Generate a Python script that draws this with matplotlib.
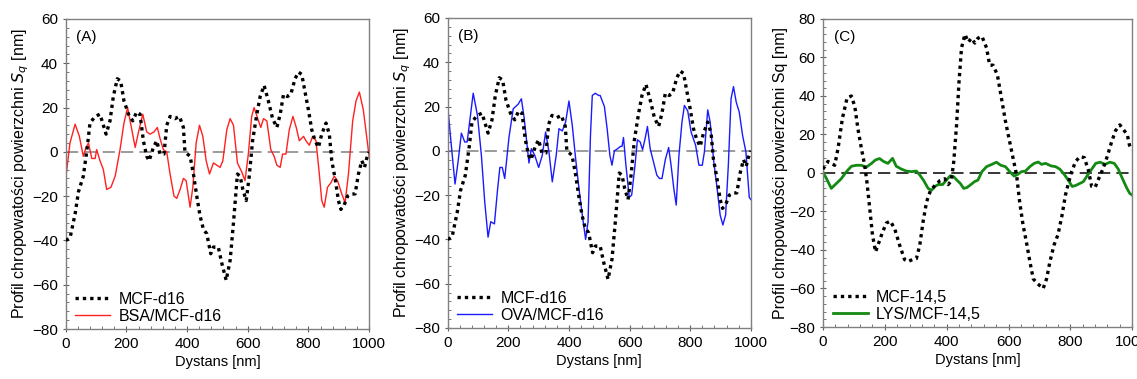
import matplotlib
matplotlib.use('Agg')
import matplotlib.pyplot as plt
from matplotlib.ticker import MultipleLocator

plt.rcParams['font.family'] = ['Liberation Sans', 'DejaVu Sans']

# MCF-d16 profile (panels A and B)
mcf16_x = [0, 14, 31, 42, 58, 71, 80, 97, 113, 122, 133, 146, 157, 170, 181, 192, 207, 221,
           234, 245, 256, 267, 275, 289, 300, 311, 324, 333, 344, 360, 375, 388, 393, 410,
           421, 432, 443, 454, 465, 478, 487, 503, 514, 529, 542, 553, 566, 575, 584, 595,
           605, 616, 630, 641, 654, 668, 682, 696, 707, 718, 731, 742, 756, 767, 778, 789,
           800, 811, 822, 833, 844, 858, 869, 877, 888, 899, 907, 918, 929, 943, 954, 965,
           976, 985, 992, 1000]
mcf16_y = [-40, -39, -28, -18, -11, 2, 13, 16, 17, 13, 8, 14, 25, 33, 32, 23, 17, 14,
           18, 17, 5, -2, -4, 2, 5, -1, -1, 12, 16, 15, 16, 11, 0, -2,
           -10, -20, -29, -35, -37, -46, -43, -43, -50, -58, -49, -32, -10, -11, -17, -22,
           -11, 5, 17, 25, 30, 23, 15, 11, 17, 26, 25, 26, 33, 36, 35, 27,
           19, 10, 5, 2, 8, 13, 8, -4, -12, -22, -26, -24, -20, -19, -19, -10,
           -4, -7, -3, 0]

# BSA/MCF-d16 (panel A)
bsa_x = [0, 14, 31, 45, 58, 67, 75, 86, 97, 102, 113, 124, 135, 149, 163, 179, 192, 204,
         215, 229, 240, 254, 267, 278, 291, 302, 311, 322, 333, 344, 357, 366, 377, 388,
         397, 410, 419, 430, 441, 452, 463, 474, 487, 498, 509, 518, 531, 542, 553, 566,
         580, 591, 602, 613, 621, 633, 643, 652, 663, 676, 687, 696, 707, 715, 726, 737,
         749, 760, 770, 784, 792, 803, 814, 825, 836, 844, 852, 863, 874, 885, 896, 910,
         921, 932, 946, 957, 968, 981, 992, 1000]
bsa_y = [-12, 4, 12.5, 7, -2, 2, 4, -3, -3, 1, -4, -8, -17, -16, -11, 1, 13, 20,
         12, 2, 9, 17, 9, 8, 9, 11, 6, 1, 0, -10, -20, -21, -17, -12,
         -13, -25, -16, 4, 12, 7, -4, -10, -5, -6, -7, -4, 10, 15, 12, -5,
         -9, -13, -1, 16, 20, 15, 11, 15, 14, 1, -2, -6, -7, -1, -1, 10,
         16, 11, 5, 7, 5, 3, 7, 5, -10, -22, -25, -16, -14, -11, -13, -19,
         -23, -10, 14, 23, 27, 19, 7, -2]

# OVA/MCF-d16 (panel B)
ova_x = [0, 10, 24, 34, 45, 56, 64, 84, 98, 111, 122, 133, 142, 154, 164, 172, 180, 188,
         202, 216, 232, 243, 252, 263, 268, 276, 287, 300, 312, 323, 334, 345, 358, 367,
         378, 389, 400, 411, 422, 433, 444, 455, 463, 471, 477, 487, 498, 503, 517, 526,
         535, 542, 550, 561, 570, 575, 580, 588, 599, 607, 618, 626, 635, 643, 652, 659,
         668, 679, 690, 699, 707, 718, 729, 737, 746, 754, 763, 773, 781, 792, 803, 818,
         829, 840, 847, 858, 866, 878, 889, 899, 908, 917, 926, 935, 943, 952, 962, 973,
         984, 995, 1000]
ova_y = [20, 5, -15, -5, 8, 4, 4, 26, 16, -2, -23, -39, -32, -33, -18, -7.5, -7.5, -12.5,
         6, 19, 21, 23.5, 15, 1, -5.5, 1, -2, -7.5, -2, 8.5, -0.5, -14, -2, 10,
         9, 13, 22.5, 11.5, -3.5, -17, -29, -40, -32, 7, 25, 26, 25, 25, 20, 10,
         -2, -6.5, 0, 1, 2, 2, 6, -6.5, -21, -20, -6.5, 5, 4, 0.5, 6, 11,
         1, -5, -11, -12.5, -12.5, -4, 1.5, -6.5, -17, -24.5, -2, 13, 20.5, 18, 8.5, 2.5,
         -6.5, -6.5, -0.5, 18.5, 13, -5, -17, -29, -33.5, -29, -6.5, 23.5, 29, 22, 17.5, 7,
         -0.5, -21, -22]

# MCF-14,5 (panel C)
mcf145_x = [0, 16, 38, 49, 63, 78, 92, 103, 113, 124, 135, 142, 151, 160, 170, 181, 192,
            205, 218, 232, 248, 264, 275, 289, 302, 313, 324, 335, 348, 362, 378, 394, 405,
            415, 423, 432, 440, 448, 459, 470, 480, 491, 501, 514, 529, 539, 550, 564, 577,
            590, 604, 615, 626, 636, 647, 658, 669, 680, 694, 712, 723, 734, 747, 760, 773,
            784, 795, 804, 817, 831, 845, 858, 869, 880, 892, 906, 920, 933, 946, 960, 974,
            984, 991, 1000]
mcf145_y = [2, 6, 4, 13, 28.5, 39, 40, 34.5, 23, 13, 4, -4.5, -18, -32, -41, -36, -31,
            -26, -25, -29, -37.5, -45, -46, -45, -44.5, -37.5, -25, -15, -9, -6.5, -4, -3, -6,
            -4, 6, 25, 47.5, 65, 72, 68, 70, 67.5, 70, 71, 65, 56, 56, 51, 39,
            27, 16, 7.5, -1, -15, -27, -36, -46, -55, -57.5, -60, -55, -46, -37.5, -32, -22,
            -11.5, -4.5, 0.7, 6, 8.5, 8, 1.5, -7, -7.5, -2.8, 2.4, 9, 16, 22, 25, 22,
            20, 14.5, 12]

# LYS/MCF-14,5 (panel C)
lys_x = [0, 11, 27, 43, 59, 76, 92, 108, 124, 140, 157, 170, 183, 196, 210, 225, 237, 254,
         270, 286, 302, 313, 326, 340, 351, 362, 373, 387, 399, 412, 423, 433, 444, 455,
         465, 476, 490, 501, 514, 529, 545, 561, 575, 590, 604, 618, 629, 642, 655, 669,
         683, 696, 707, 720, 737, 752, 766, 780, 793, 806, 817, 831, 842, 856, 869, 882,
         896, 912, 928, 942, 955, 968, 982, 992, 1000]
lys_y = [0.5, -2.8, -8, -5.5, -3, 0.7, 3.5, 4, 4, 3, 5, 6.8, 7.5, 6, 5, 7.6, 3.5, 2,
         1, 0.7, 1, -1, -4, -8, -9, -7, -6, -6, -3.7, -1.4, -2, -3.7, -5.4, -8,
         -7.6, -6.3, -4.5, -3.7, 0.7, 3.3, 4.4, 5.6, 4, 3.3, 0.7, -1.6, -0.8, 0.7, 1, 3.3,
         5, 5.7, 4.5, 5, 3.7, 3.3, 2, -0.7, -3.7, -7, -6.5, -5.4, -4.5, -1, 2, 5,
         5.6, 4.5, 5.6, 5, 2, -2.8, -7.7, -10.6, -11.5]

fig = plt.figure(figsize=(11.37, 3.79), dpi=100)
ax_a = fig.add_axes([0.0578, 0.1319, 0.2668, 0.818])
ax_b = fig.add_axes([0.3938, 0.1346, 0.2665, 0.818])
ax_c = fig.add_axes([0.7238, 0.1372, 0.2720, 0.8127])

panels = [
    (ax_a, '(A)', mcf16_x, mcf16_y, 'MCF-d16', bsa_x, bsa_y, 'BSA/MCF-d16', '#ff2020', 1.0,
     (-80, 60), '#808080', 'Profil chropowatości powierzchni $S_q$ [nm]'),
    (ax_b, '(B)', mcf16_x, mcf16_y, 'MCF-d16', ova_x, ova_y, 'OVA/MCF-d16', '#1a1aff', 1.0,
     (-80, 60), '#808080', 'Profil chropowatości powierzchni $S_q$ [nm]'),
    (ax_c, '(C)', mcf145_x, mcf145_y, 'MCF-14,5', lys_x, lys_y, 'LYS/MCF-14,5', '#138a13', 2.0,
     (-80, 80), 'black', 'Profil chropowatości powierzchni Sq [nm]'),
]

for ax, tag, bx, by, blab, cx, cy, clab, col, lw, ylim, zcol, ylab in panels:
    ax.axhline(0, color=zcol, linestyle=(0, (8, 4)), linewidth=1.1, zorder=1)
    ax.plot(bx, by, color='black', linestyle=(0, (1, 1.2)), linewidth=2.4, label=blab, zorder=3)
    ax.plot(cx, cy, color=col, linewidth=lw, label=clab, zorder=2)
    ax.set_xlim(0, 1000)
    ax.set_ylim(*ylim)
    ax.xaxis.set_major_locator(MultipleLocator(200))
    ax.xaxis.set_minor_locator(MultipleLocator(40))
    ax.yaxis.set_major_locator(MultipleLocator(20))
    ax.yaxis.set_minor_locator(MultipleLocator(4))
    ax.tick_params(which='major', direction='inout', length=5, width=0.8, color='#606060',
                   labelsize=11, pad=3)
    ax.tick_params(which='minor', direction='in', length=2.5, width=0.6, color='#606060')
    for s in ax.spines.values():
        s.set_color('#808080')
        s.set_linewidth(1.0)
    ax.set_xlabel('Dystans [nm]', fontsize=10.5, labelpad=3)
    ax.set_ylabel(ylab, fontsize=11.5, labelpad=1)
    ax.text(0.035, 0.965, tag, transform=ax.transAxes, fontsize=11, va='top', ha='left')
    ax.legend(loc='lower left', frameon=False, fontsize=11.5, handlelength=2.2,
              borderaxespad=0.2, labelspacing=0.15, handletextpad=0.5,
              bbox_to_anchor=(0.0, -0.015))

fig.savefig('out.png', dpi=100)
